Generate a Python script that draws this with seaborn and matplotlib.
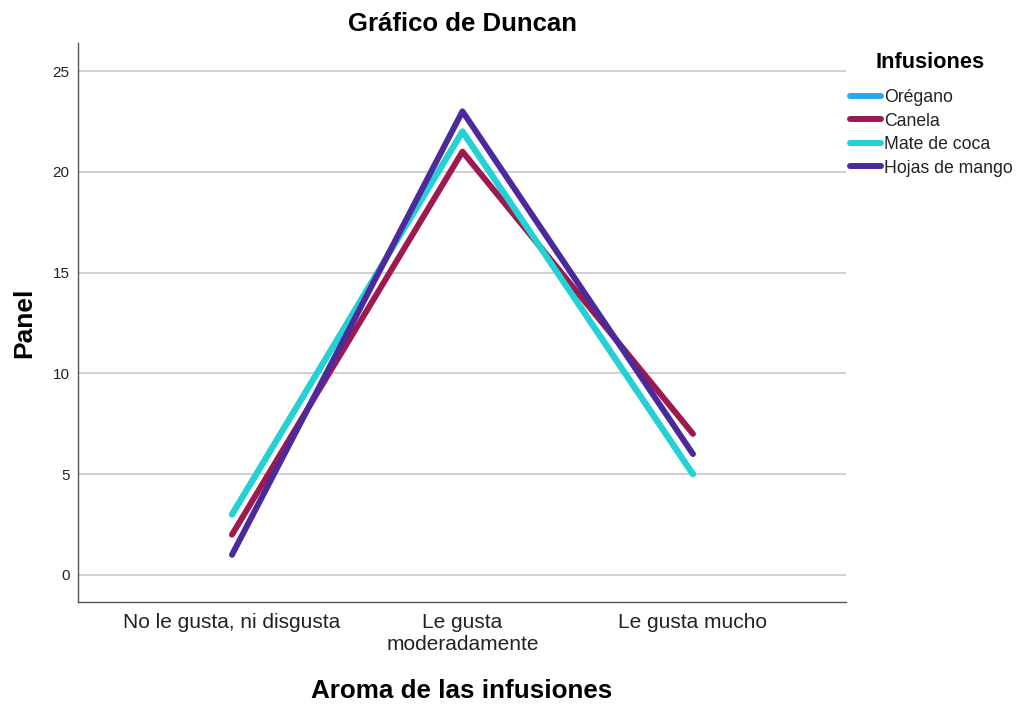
import seaborn as sns
import numpy as np
import matplotlib.pyplot as plt
import pandas as pd

# datos
categorias = ["No le gusta, ni disgusta", "Le gusta\nmoderadamente", "Le gusta mucho"]
infusiones = ["Orégano", "Canela", "Mate de coca", "Hojas de mango"]
oregano = [3, 22, 5]
canela = [2, 21, 7]
mate_coca = [3, 22, 5]
hojas_mango = [1, 23, 6]
colores = ["#29A8F2", "#9C1A50", "#22D3D3", "#4C2A9C"]

valores = [oregano, canela, mate_coca, hojas_mango]
filas = []
for nombre, serie in zip(infusiones, valores):
    for i, v in enumerate(serie):
        filas.append({"Aroma": i, "Panel": v, "Infusiones": nombre})
df = pd.DataFrame(filas)

sns.set_style("white")
plt.rcParams['font.family'] = ['Liberation Sans', 'DejaVu Sans']
plt.rcParams['text.color'] = "black"

fig = plt.figure(figsize=(10.18, 7.04), dpi=100)
ax = fig.add_axes([78 / 1018, 1 - 602 / 704, (846 - 78) / 1018, (602 - 43) / 704])

sns.lineplot(data=df, x="Aroma", y="Panel", hue="Infusiones", hue_order=infusiones,
             palette=colores, linewidth=4.3, ax=ax, legend=False,
             solid_capstyle="round")

ax.set_xlim(-0.668, 2.664)
ax.set_ylim(-1.34, 26.39)
ax.set_xticks(range(len(categorias)))
ax.set_xticklabels(categorias, fontsize=15, color="#222222", linespacing=1.2)
ax.set_yticks([0, 5, 10, 15, 20, 25])
ax.tick_params(axis="y", labelsize=11, length=0, pad=6, colors="#222222")
ax.tick_params(axis="x", length=0, pad=8)
ax.yaxis.grid(True, color="#c8c8c8", linewidth=1.2)
ax.set_axisbelow(True)
for s in ["top", "right"]:
    ax.spines[s].set_visible(False)
for s in ["left", "bottom"]:
    ax.spines[s].set_color("#555555")
    ax.spines[s].set_linewidth(1.0)

ax.set_xlabel("Aroma de las infusiones", fontsize=18.7, fontweight="bold", color="black")
ax.set_ylabel("Panel", fontsize=19, fontweight="bold", color="black")
ax.xaxis.set_label_coords(0.5, -0.138)
ax.yaxis.set_label_coords(-0.055, 0.5)
ax.set_title("Gráfico de Duncan", fontsize=18.5, fontweight="bold", pad=8.5, color="black")

fig.text(985 / 1018, 1 - 63 / 704, "Infusiones", ha="right", va="center",
         fontsize=15.7, fontweight="bold", color="black")
handles = [plt.Line2D([0], [0], color=c, linewidth=4.3, solid_capstyle="round") for c in colores]
leg = fig.legend(handles, infusiones, loc="upper left",
                 bbox_to_anchor=(850 / 1018, 1 - 89 / 704), frameon=False, borderpad=0,
                 borderaxespad=0, fontsize=12.7, handlelength=1.75, handletextpad=0.2,
                 labelspacing=0.37)
for t in leg.get_texts():
    t.set_color("#222222")

fig.savefig("out.png", dpi=100)
